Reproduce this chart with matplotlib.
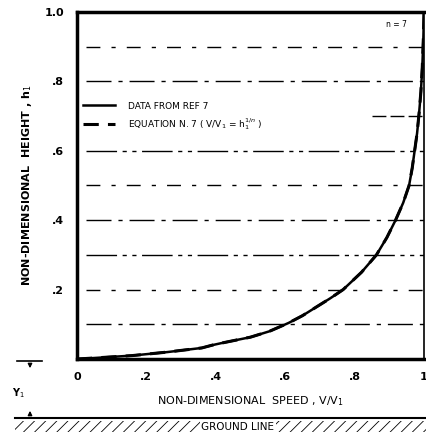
import matplotlib
matplotlib.use("Agg")
import matplotlib.pyplot as plt
from matplotlib.patches import Rectangle
from matplotlib.lines import Line2D

# velocity profile (V/V1 vs h1)
speed = [0.0, 0.05, 0.16, 0.26, 0.36, 0.39, 0.417, 0.50, 0.555, 0.61, 0.65,
         0.69, 0.73, 0.767, 0.82, 0.863, 0.893, 0.918, 0.94, 0.957, 0.966,
         0.973, 0.98, 0.986, 0.991, 0.995, 0.998, 1.0]
height = [0.0, 0.003, 0.010, 0.020, 0.032, 0.040, 0.046, 0.063, 0.080, 0.104,
          0.125, 0.15, 0.175, 0.20, 0.25, 0.30, 0.35, 0.40, 0.45, 0.50, 0.55,
          0.60, 0.65, 0.71, 0.77, 0.84, 0.92, 1.0]

grid_levels = [0.1, 0.2, 0.3, 0.4, 0.5, 0.6, 0.8, 0.9]
x_ticks = [0, 0.2, 0.4, 0.6, 0.8, 1.0]
x_ticklabels = ["0", ".2", ".4", ".6", ".8", "1"]
y_ticks = [0.2, 0.4, 0.6, 0.8, 1.0]
y_ticklabels = [".2", ".4", ".6", ".8", "1.0"]

plt.rcParams['font.family'] = ['DejaVu Sans']
plt.rcParams['hatch.linewidth'] = 0.6

fig = plt.figure(figsize=(4.27, 4.40), dpi=100)
ax = fig.add_axes([0.180, 0.184, 0.813, 0.789])
ax.set_xlim(0, 1)
ax.set_ylim(0, 1)

styles = [(0, (18, 5, 3, 5)), (0, (10, 8, 3, 8)), (0, (22, 4, 3, 4, 3, 4))]
for i, lv in enumerate(grid_levels):
    ax.plot([0.025, 1.0], [lv, lv], color='black', lw=1.0,
            linestyle=styles[i % 3])
# the 0.7 line is hidden by the legend except at the right
ax.plot([0.85, 1.0], [0.7, 0.7], color='black', lw=1.0, linestyle=(0, (10, 3)))

ax.plot(speed, height, color='black', lw=1.8, label='DATA FROM REF 7')
ax.plot(speed, height, color='black', lw=2.2, linestyle=(0, (5, 3)),
        label='EQUATION N. 7 ( V/V$_1$ = h$_1^{1/n}$ )')

ax.legend(loc='upper left', bbox_to_anchor=(0.0, 0.76), frameon=False,
          fontsize=6.5, handlelength=3.5, handletextpad=1.5,
          labelspacing=0.6, borderaxespad=0.3)
ax.text(0.89, 0.965, 'n = 7', fontsize=5.5, ha='left', va='center')

for s in ['left', 'bottom', 'top']:
    ax.spines[s].set_linewidth(2.5)
ax.spines['right'].set_linewidth(1.2)

ax.set_xticks(x_ticks)
ax.set_xticklabels(x_ticklabels, fontsize=8, fontweight='bold')
ax.set_yticks(y_ticks)
ax.set_yticklabels(y_ticklabels, fontsize=8, fontweight='bold')
ax.tick_params(length=0, pad=9)

ax.set_xlabel('NON-DIMENSIONAL  SPEED , V/V$_1$', fontsize=8, labelpad=9)
ax.set_ylabel('NON-DIMENSIONAL  HEIGHT , h$_1$', fontsize=8, fontweight='bold',
              labelpad=8)

# ground line sketch below the chart, pixel coordinates of the figure
ov = fig.add_axes([0, 0, 1, 1], zorder=-1)
ov.set_xlim(0, 427)
ov.set_ylim(440, 0)
ov.axis('off')
ov.add_line(Line2D([17, 42], [361, 361], color='black', lw=1.2))
ov.annotate('', xy=(30, 371), xytext=(30, 361),
            arrowprops=dict(arrowstyle='-|>', color='black', lw=1, mutation_scale=6))
ov.annotate('', xy=(30, 408), xytext=(30, 418),
            arrowprops=dict(arrowstyle='-|>', color='black', lw=1, mutation_scale=6))
ov.text(12, 393, 'Y$_1$', fontsize=7, fontweight='bold', ha='left', va='center')
ov.add_line(Line2D([15, 427], [418, 418], color='black', lw=1.5))
ov.add_patch(Rectangle((15, 421), 412, 11, fill=False, hatch='///',
                       edgecolor='black', lw=0))
ov.text(238, 427, 'GROUND LINE', fontsize=7.5, ha='center', va='center',
        bbox=dict(facecolor='white', edgecolor='none', pad=1))

fig.savefig('out.png', dpi=100)
